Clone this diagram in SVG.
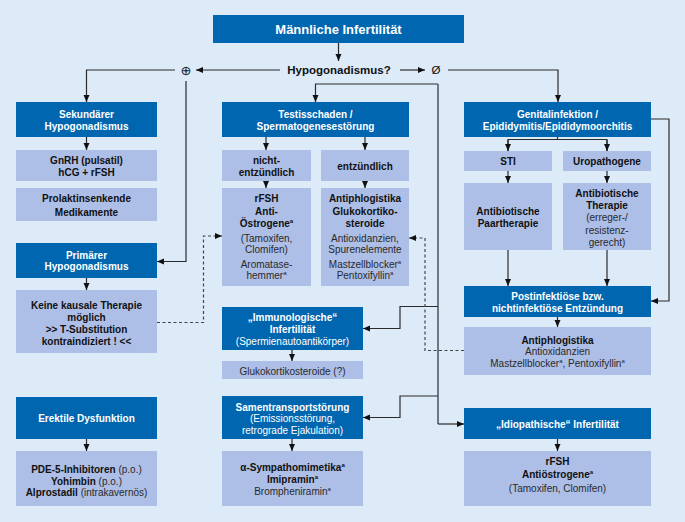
<svg xmlns="http://www.w3.org/2000/svg" width="685" height="522" viewBox="0 0 685 522">
<style>
text{font-family:"Liberation Sans",Arial,sans-serif;font-size:10px;text-anchor:middle;}
.dk{fill:#0066b0;}
.lt{fill:#adbee7;}
.w{fill:#ffffff;font-weight:bold;}
.wr{fill:#ffffff;}
.b{fill:#111111;font-weight:bold;}
.r{fill:#2a2a2a;}
.bo{font-weight:bold;fill:#111111;}
.sup{font-size:6px;}
.ln{fill:none;stroke:#2b2b2b;stroke-width:1.2;}
.tr{fill:none;stroke:#555a60;stroke-width:1.6;}
.ds{fill:none;stroke:#444;stroke-width:1.2;stroke-dasharray:3,2.5;}
</style>
<defs>
<marker id="ah" markerUnits="userSpaceOnUse" markerWidth="8" markerHeight="7" refX="7" refY="3" orient="auto">
<path d="M0,0 L7,3 L0,6 z" fill="#111"/>
</marker>
</defs>
<rect width="685" height="522" fill="#ddeaf8"/>

<g id="connectors">
<path class="ln" d="M338.5,43 V61" marker-end="url(#ah)"/>
<path class="ln" d="M280,70 H196" marker-end="url(#ah)"/>
<path class="ln" d="M175,70 H86.5 V102" marker-end="url(#ah)"/>
<path class="ln" d="M186,81 V261.5 H157" marker-end="url(#ah)"/>
<path class="ln" d="M400,70 H425" marker-end="url(#ah)"/>
<path class="ln" d="M448,70 H558 V102" marker-end="url(#ah)"/>
<path class="ln" d="M438,84 H315.5 V102" marker-end="url(#ah)"/>
<path class="tr" d="M438,84 V424"/>
<path class="ln" d="M438,424 H464" marker-end="url(#ah)"/>
<path class="ln" d="M438,306.5 H400 V328.5 H363" marker-end="url(#ah)"/>
<path class="ln" d="M438,396 H400 V417.5 H363" marker-end="url(#ah)"/>
<path class="ln" d="M86.5,137 V150" marker-end="url(#ah)"/>
<path class="ln" d="M86.5,278 V290" marker-end="url(#ah)"/>
<path class="ln" d="M86.5,439 V451" marker-end="url(#ah)"/>
<path class="ln" d="M266,137 V150" marker-end="url(#ah)"/>
<path class="ln" d="M365,137 V150" marker-end="url(#ah)"/>
<path class="ln" d="M266,181 V188" marker-end="url(#ah)"/>
<path class="ln" d="M365,181 V188" marker-end="url(#ah)"/>
<path class="ln" d="M292,350 V361" marker-end="url(#ah)"/>
<path class="ln" d="M292,439 V451" marker-end="url(#ah)"/>
<path class="ln" d="M557.5,137 V139.5 M508,151 V139.5 H607 V151"/>
<path class="ln" d="M508,140 V151" marker-end="url(#ah)"/>
<path class="ln" d="M607,140 V151" marker-end="url(#ah)"/>
<path class="ln" d="M508,171 V183" marker-end="url(#ah)"/>
<path class="ln" d="M607,171 V183" marker-end="url(#ah)"/>
<path class="ln" d="M508,250 V286" marker-end="url(#ah)"/>
<path class="ln" d="M607,250 V286" marker-end="url(#ah)"/>
<path class="ln" d="M651,119 H669 V301 H651" marker-end="url(#ah)"/>
<path class="ln" d="M557.5,317 V327" marker-end="url(#ah)"/>
<path class="ln" d="M557.5,439 V451" marker-end="url(#ah)"/>
<path class="ds" d="M157,322.5 H203.5 V236 H222" marker-end="url(#ah)"/>
<path class="ds" d="M464,350.5 H425 V238 H409" marker-end="url(#ah)"/>
</g>

<g id="title">
<rect class="dk" x="213" y="15" width="251" height="28"/>
<text class="w" x="338.5" y="33.5" style="font-size:13px">Männliche Infertilität</text>
</g>
<g id="hypogonadismus">
<text class="b" x="339" y="74" style="font-size:11.5px">Hypogonadismus?</text>
</g>
<g id="plus">
<text x="186" y="75" style="font-family:'DejaVu Sans',sans-serif;font-size:13px;fill:#111">⊕</text>
</g>
<g id="null">
<text x="436" y="74" style="font-size:11.5px;fill:#111">Ø</text>
</g>

<g id="sekundaer">
<rect class="dk" x="16" y="102" width="141" height="35"/>
<text class="w" x="86.5" y="117.5">Sekundärer</text>
<text class="w" x="86.5" y="129.5">Hypogonadismus</text>
</g>
<g id="gnrh">
<rect class="lt" x="16" y="150" width="141" height="31"/>
<text class="b" x="86.5" y="164">GnRH (pulsatil)</text>
<text class="b" x="86.5" y="175.5">hCG + rFSH</text>
</g>
<g id="prolaktin">
<rect class="lt" x="16" y="188" width="141" height="33"/>
<text class="b" x="86.5" y="202">Prolaktinsenkende</text>
<text class="b" x="86.5" y="215.5">Medikamente</text>
</g>
<g id="primaer">
<rect class="dk" x="16" y="243" width="141" height="35"/>
<text class="w" x="86.5" y="258.5">Primärer</text>
<text class="w" x="86.5" y="270">Hypogonadismus</text>
</g>
<g id="keine">
<rect class="lt" x="16" y="290" width="141" height="63"/>
<text class="b" x="86.5" y="308.5">Keine kausale Therapie</text>
<text class="b" x="86.5" y="320.5">möglich</text>
<text class="b" x="86.5" y="332.5">&gt;&gt; T-Substitution</text>
<text class="b" x="86.5" y="344.5">kontraindiziert ! &lt;&lt;</text>
</g>
<g id="erektil">
<rect class="dk" x="16" y="397" width="141" height="42"/>
<text class="w" x="86.5" y="421.5">Erektile Dysfunktion</text>
</g>
<g id="pde">
<rect class="lt" x="16" y="451" width="141" height="55"/>
<text class="r" x="86.5" y="472.5"><tspan class="bo">PDE-5-Inhibitoren</tspan> (p.o.)</text>
<text class="r" x="86.5" y="484.5"><tspan class="bo">Yohimbin</tspan> (p.o.)</text>
<text class="r" x="86.5" y="496"><tspan class="bo">Alprostadil</tspan>  (intrakavernös)</text>
</g>

<g id="testis">
<rect class="dk" x="222" y="102" width="187" height="35"/>
<text class="w" x="315.5" y="117.5">Testisschaden /</text>
<text class="w" x="315.5" y="129.5">Spermatogenesestörung</text>
</g>
<g id="nichtentz">
<rect class="lt" x="222" y="150" width="89" height="31"/>
<text class="b" x="266.5" y="164">nicht-</text>
<text class="b" x="266.5" y="175.5">entzündlich</text>
</g>
<g id="entz">
<rect class="lt" x="321" y="150" width="88" height="31"/>
<text class="b" x="365" y="169.5">entzündlich</text>
</g>
<g id="rfsh1">
<rect class="lt" x="222" y="188" width="89" height="98"/>
<text class="b" x="266.5" y="202">rFSH</text>
<text class="b" x="266.5" y="214.5">Anti-</text>
<text class="b" x="266.5" y="227">Östrogene<tspan class="sup" dy="-4">a</tspan></text>
<text class="r" x="266.5" y="241.5">(Tamoxifen,</text>
<text class="r" x="266.5" y="253">Clomifen)</text>
<text class="r" x="266.5" y="267.5">Aromatase-</text>
<text class="r" x="266.5" y="279">hemmer<tspan class="sup" dy="-4">a</tspan></text>
</g>
<g id="antiphlog1">
<rect class="lt" x="321" y="188" width="88" height="98"/>
<text class="b" x="365" y="202">Antiphlogistika</text>
<text class="b" x="365" y="214.5">Glukokortiko-</text>
<text class="b" x="365" y="227">steroide</text>
<text class="r" x="365" y="241.5">Antioxidanzien,</text>
<text class="r" x="365" y="253">Spurenelemente</text>
<text class="r" x="365" y="267.5">Mastzellblocker<tspan class="sup" dy="-4">a</tspan></text>
<text class="r" x="365" y="279">Pentoxifyllin<tspan class="sup" dy="-4">a</tspan></text>
</g>
<g id="immun">
<rect class="dk" x="222" y="307" width="141" height="43"/>
<text class="w" x="292.5" y="320.5">„Immunologische“</text>
<text class="w" x="292.5" y="332.5">Infertilität</text>
<text class="wr" x="292.5" y="344.5">(Spermienautoantikörper)</text>
</g>
<g id="gluko">
<rect class="lt" x="222" y="361" width="141" height="18"/>
<text class="r" x="292.5" y="374.5">Glukokortikosteroide (?)</text>
</g>
<g id="samen">
<rect class="dk" x="222" y="396" width="141" height="43"/>
<text class="w" x="292.5" y="410.5">Samentransportstörung</text>
<text class="wr" x="292.5" y="422">(Emissionsstörung,</text>
<text class="wr" x="292.5" y="434">retrograde Ejakulation)</text>
</g>
<g id="sympath">
<rect class="lt" x="222" y="451" width="141" height="55"/>
<text class="b" x="292.5" y="470.5">α-Sympathomimetika<tspan class="sup" dy="-4">a</tspan></text>
<text class="b" x="292.5" y="482.5">Imipramin<tspan class="sup" dy="-4">a</tspan></text>
<text class="r" x="292.5" y="494.5">Brompheniramin<tspan class="sup" dy="-4">a</tspan></text>
</g>

<g id="genital">
<rect class="dk" x="464" y="102" width="187" height="35"/>
<text class="w" x="557.5" y="117.5">Genitalinfektion /</text>
<text class="w" x="557.5" y="129.5">Epididymitis/Epididymoorchitis</text>
</g>
<g id="sti">
<rect class="lt" x="464" y="151" width="88" height="20"/>
<text class="b" x="508" y="165">STI</text>
</g>
<g id="uro">
<rect class="lt" x="563" y="151" width="88" height="20"/>
<text class="b" x="607" y="165">Uropathogene</text>
</g>
<g id="paar">
<rect class="lt" x="464" y="183" width="88" height="67"/>
<text class="b" x="508" y="214.5">Antibiotische</text>
<text class="b" x="508" y="226.5">Paartherapie</text>
</g>
<g id="abtherapie">
<rect class="lt" x="563" y="183" width="88" height="67"/>
<text class="b" x="607" y="196.5">Antibiotische</text>
<text class="b" x="607" y="209">Therapie</text>
<text class="r" x="607" y="221">(erreger-/</text>
<text class="r" x="607" y="233.5">resistenz-</text>
<text class="r" x="607" y="245.5">gerecht)</text>
</g>
<g id="postinf">
<rect class="dk" x="464" y="286" width="187" height="31"/>
<text class="w" x="557.5" y="299.5">Postinfektiöse bzw.</text>
<text class="w" x="557.5" y="311.5">nichtinfektiöse Entzündung</text>
</g>
<g id="antiphlog2">
<rect class="lt" x="464" y="327" width="187" height="48"/>
<text class="b" x="557.5" y="343.5">Antiphlogistika</text>
<text class="r" x="557.5" y="355">Antioxidanzien</text>
<text class="r" x="557.5" y="366.5">Mastzellblocker<tspan class="sup" dy="-4">a</tspan><tspan dy="4">, Pentoxifyllin</tspan><tspan class="sup" dy="-4">a</tspan></text>
</g>
<g id="idiopath">
<rect class="dk" x="464" y="408" width="187" height="31"/>
<text class="w" x="557.5" y="427.5">„Idiopathische“ Infertilität</text>
</g>
<g id="rfsh2">
<rect class="lt" x="464" y="451" width="187" height="55"/>
<text class="b" x="557.5" y="465">rFSH</text>
<text class="b" x="557.5" y="478">Antiöstrogene<tspan class="sup" dy="-4">a</tspan></text>
<text class="r" x="557.5" y="492">(Tamoxifen, Clomifen)</text>
</g>
</svg>
